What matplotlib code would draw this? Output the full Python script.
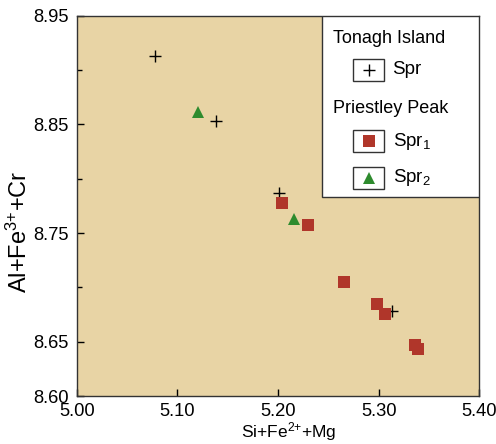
import matplotlib
matplotlib.use("Agg")
import matplotlib.pyplot as plt
from matplotlib.patches import Rectangle

plt.rcParams['font.family'] = ['Liberation Sans', 'DejaVu Sans']
plt.rcParams['mathtext.fontset'] = 'custom'
plt.rcParams['mathtext.rm'] = 'Liberation Sans'
plt.rcParams['mathtext.it'] = 'Liberation Sans:italic'
plt.rcParams['mathtext.bf'] = 'Liberation Sans:bold'

# Tonagh Island Spr (crosses)
ton_x = [5.078, 5.138, 5.201, 5.313]
ton_y = [8.913, 8.853, 8.787, 8.678]
# Priestley Peak Spr1 (squares)
spr1_x = [5.204, 5.2295, 5.266, 5.2987, 5.3063, 5.3364, 5.3391]
spr1_y = [8.778, 8.757, 8.705, 8.685, 8.6755, 8.6467, 8.6433]
# Priestley Peak Spr2 (triangles)
spr2_x = [5.121, 5.216]
spr2_y = [8.861, 8.763]

xticks = [5.00, 5.10, 5.20, 5.30, 5.40]
xticklabels = ["5.00", "5.10", "5.20", "5.30", "5.40"]
yticks = [8.60, 8.65, 8.75, 8.85, 8.95]
yticklabels = ["8.60", "8.65", "8.75", "8.85", "8.95"]
yminor = [8.70, 8.80, 8.90]

bg = '#E8D4A5'
red = '#B0362A'
green = '#2E8B2E'

fig = plt.figure(figsize=(4.96, 4.44), dpi=100)
ax = fig.add_axes([76.7/496, (444-396)/444, (479.3-76.7)/496, (396-15.7)/444])
ax.set_facecolor(bg)

ax.plot(ton_x, ton_y, linestyle='none', marker='+', color='black', markersize=9, markeredgewidth=1.0, zorder=2)
ax.plot(spr1_x, spr1_y, linestyle='none', marker='s', color=red, markersize=8.3, markeredgewidth=0, zorder=3)
ax.plot(spr2_x, spr2_y, linestyle='none', marker='^', color=green, markersize=8.5, markeredgewidth=0, zorder=3)

ax.set_xlim(5.00, 5.40)
ax.set_ylim(8.60, 8.95)
ax.set_xticks(xticks)
ax.set_xticklabels(xticklabels)
ax.set_yticks(yticks)
ax.set_yticklabels(yticklabels)
ax.set_yticks(yminor, minor=True)
ax.tick_params(axis='both', which='major', direction='in', length=5, width=1, labelsize=13.2, pad=6)
ax.tick_params(axis='x', which='major', pad=5)
ax.tick_params(axis='y', which='minor', direction='in', length=3.5, width=1)
for s in ax.spines.values():
    s.set_linewidth(1.0)
    s.set_color('#333333')

W = 402.6
H = 380.3
def ax_xy(px, py):
    return ((px - 76.7) / W, (396 - py) / H)

ax.set_xlabel("Si+Fe$^{2{+}}$+Mg", fontsize=12.5)
ax.xaxis.set_label_coords(*ax_xy(288.5, 420.5))
ax.set_ylabel("Al+Fe$^{3{+}}$+Cr", fontsize=17)
ax.yaxis.set_label_coords(*ax_xy(32, 232))

# Custom legend box in axes coordinates
x0, y0 = ax_xy(321.7, 196.7)
x1, y1 = ax_xy(479.3, 15.7)
ax.add_patch(Rectangle((x0, y0), x1 - x0, y1 - y0, transform=ax.transAxes,
                       facecolor='white', edgecolor='#333333', linewidth=1.0, zorder=5))

tx, ty = ax_xy(332.7, 38.5)
ax.text(tx, ty, "Tonagh Island", transform=ax.transAxes, fontsize=13, va='center', ha='left', zorder=6)
tx, ty = ax_xy(332.7, 108.5)
ax.text(tx, ty, "Priestley Peak", transform=ax.transAxes, fontsize=13, va='center', ha='left', zorder=6)

entries = [(70.0, '+', 'black', 9, "Spr"),
           (141.3, 's', red, 8.3, "Spr$_{1}$"),
           (177.7, '^', green, 8.5, "Spr$_{2}$")]
for cy, mk, col, ms, lab in entries:
    bx0, by0 = ax_xy(353.3, cy + 11.2)
    bx1, by1 = ax_xy(384.3, cy - 11.2)
    ax.add_patch(Rectangle((bx0, by0), bx1 - bx0, by1 - by0, transform=ax.transAxes,
                           facecolor='white', edgecolor='#333333', linewidth=1.0, zorder=6))
    mx, my = ax_xy(368.8, cy)
    ax.plot([mx], [my], transform=ax.transAxes, linestyle='none', marker=mk, color=col,
            markersize=ms, markeredgewidth=1.0 if mk == '+' else 0, zorder=7, clip_on=False)
    lx, ly = ax_xy(392.5, cy)
    ax.text(lx, ly, lab, transform=ax.transAxes, fontsize=13.5, va='center', ha='left', zorder=7)

fig.savefig("out.png", dpi=100)
